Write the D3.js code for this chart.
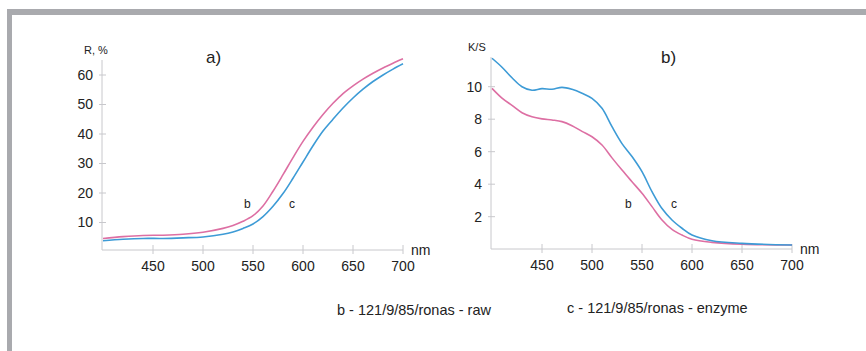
<!DOCTYPE html>
<html>
<head>
<meta charset="utf-8">
<script src="https://cdn.jsdelivr.net/npm/d3@7"></script>
<style>
  body { margin: 0; background: #fff; }
  svg { display: block; font-family: "Liberation Sans", Arial, sans-serif; }
</style>
</head>
<body>
<div id="chart"></div>
<script>
// wavelengths (nm)
const nmA = [400, 420, 440, 460, 480, 500, 520, 530, 540, 550, 560, 570, 580, 590, 600, 610, 620, 630, 640, 650, 660, 670, 680, 690, 700];
// reflectance R, %
const rawR = [4.6, 5.2, 5.6, 5.7, 6.0, 6.7, 8.0, 9.0, 10.4, 12.3, 15.6, 20.6, 26.2, 32, 37.5, 42.3, 46.6, 50.4, 53.7, 56.3, 58.6, 60.6, 62.4, 64, 65.5];
const enzR = [3.8, 4.3, 4.6, 4.6, 4.8, 5.1, 6.0, 6.8, 8.0, 9.5, 12, 15.5, 19.8, 25, 30.5, 36, 41, 45, 48.8, 52.2, 55.2, 57.8, 60, 62, 63.8];

const nmB = [400, 410, 420, 430, 440, 450, 460, 470, 480, 490, 500, 510, 520, 530, 540, 550, 560, 570, 580, 590, 600, 620, 650, 700];
// K/S
const rawKS = [9.9, 9.3, 8.85, 8.4, 8.15, 8.02, 7.95, 7.85, 7.6, 7.25, 6.92, 6.41, 5.62, 4.87, 4.15, 3.44, 2.62, 1.8, 1.22, 0.87, 0.61, 0.42, 0.30, 0.26];
const enzKS = [11.75, 11.2, 10.55, 10.0, 9.78, 9.88, 9.84, 9.96, 9.84, 9.6, 9.28, 8.67, 7.54, 6.5, 5.7, 4.77, 3.54, 2.5, 1.8, 1.29, 0.87, 0.52, 0.36, 0.26];

const xTicks = [450, 500, 550, 600, 650, 700];
const yTicksA = [10, 20, 30, 40, 50, 60];
const yTicksB = [2, 4, 6, 8, 10];

const legendItems = ['b - 121/9/85/ronas - raw', 'c - 121/9/85/ronas - enzyme'];

const W = 866, H = 351;
const pink = '#dd6fa3', blue = '#3d9bd6', axisCol = '#c8c8cc', txt = '#222';

const svg = d3.select('#chart').append('svg')
  .attr('width', W).attr('height', H);

// frame
svg.append('rect').attr('x', 7).attr('y', 9).attr('width', W - 7).attr('height', 6).style('fill', '#a9aaae');
svg.append('rect').attr('x', 7).attr('y', 9).attr('width', 5).attr('height', H - 9).style('fill', '#a9aaae');

function panel(opt) {
  const x = d3.scaleLinear().domain([400, 700]).range(opt.xr);
  const y = d3.scaleLinear().domain(opt.yd).range(opt.yr);
  const g = svg.append('g');

  // axes lines
  g.append('line').attr('x1', opt.xr[0] - 1).attr('x2', opt.xr[0] - 1)
    .attr('y1', opt.axisTop).attr('y2', opt.axisY)
    .style('stroke', axisCol).style('stroke-width', 1);
  g.append('line').attr('x1', opt.xr[0] - 1).attr('x2', x(700))
    .attr('y1', opt.axisY).attr('y2', opt.axisY)
    .style('stroke', axisCol).style('stroke-width', 1);

  // x ticks
  g.selectAll('.xt').data(xTicks).enter().append('line')
    .attr('x1', d => x(d)).attr('x2', d => x(d))
    .attr('y1', opt.axisY - 5).attr('y2', opt.axisY + 4)
    .style('stroke', axisCol);
  g.selectAll('.xl').data(xTicks).enter().append('text')
    .attr('x', d => x(d)).attr('y', opt.axisY + 21)
    .attr('text-anchor', 'middle')
    .style('font-size', '14px').style('fill', txt)
    .text(d => d);

  // y ticks
  g.selectAll('.yt').data(opt.yTicks).enter().append('line')
    .attr('x1', opt.xr[0] - 4).attr('x2', opt.xr[0] + 3)
    .attr('y1', d => y(d)).attr('y2', d => y(d))
    .style('stroke', axisCol);
  g.selectAll('.yl').data(opt.yTicks).enter().append('text')
    .attr('x', opt.xr[0] - 10).attr('y', d => y(d))
    .attr('dy', '.35em').attr('text-anchor', 'end')
    .style('font-size', '14px').style('fill', txt)
    .text(d => d);

  const line = d3.line().x(d => x(d[0])).y(d => y(d[1])).curve(d3.curveCatmullRom);
  g.append('path').datum(d3.zip(opt.nm, opt.raw))
    .attr('d', line).style('fill', 'none').style('stroke', pink).style('stroke-width', 1.6);
  g.append('path').datum(d3.zip(opt.nm, opt.enz))
    .attr('d', line).style('fill', 'none').style('stroke', blue).style('stroke-width', 1.6);

  // labels
  g.append('text').attr('x', opt.yLab[0]).attr('y', opt.yLab[1])
    .style('font-size', '11px').style('fill', txt).text(opt.yTitle);
  g.append('text').attr('x', opt.title[0]).attr('y', opt.title[1])
    .style('font-size', '17px').style('fill', txt).text(opt.titleText);
  g.append('text').attr('x', x(700) + 8).attr('y', opt.axisY + 5)
    .style('font-size', '14px').style('fill', txt).text('nm');
  g.append('text').attr('x', opt.bLab[0]).attr('y', opt.bLab[1])
    .style('font-size', '12px').style('fill', txt).text('b');
  g.append('text').attr('x', opt.cLab[0]).attr('y', opt.cLab[1])
    .style('font-size', '12px').style('fill', txt).text('c');
}

panel({
  xr: [103, 403], yd: [0, 60], yr: [252, 75], axisY: 250, axisTop: 60,
  nm: nmA, raw: rawR, enz: enzR, yTicks: yTicksA,
  yTitle: 'R, %', yLab: [84, 54], title: [206, 63], titleText: 'a)',
  bLab: [244, 208], cLab: [289, 208]
});

panel({
  xr: [492, 792], yd: [0, 10], yr: [249.2, 86.7], axisY: 249, axisTop: 57,
  nm: nmB, raw: rawKS, enz: enzKS, yTicks: yTicksB,
  yTitle: 'K/S', yLab: [468, 51], title: [661, 63], titleText: 'b)',
  bLab: [625, 208], cLab: [671, 208]
});

// legend
svg.selectAll('.leg').data(legendItems).enter().append('text')
  .attr('x', (d, i) => i === 0 ? 337 : 567)
  .attr('y', (d, i) => i === 0 ? 315 : 313)
  .style('font-size', '14.5px').style('fill', txt)
  .text(d => d);
</script>
</body>
</html>
